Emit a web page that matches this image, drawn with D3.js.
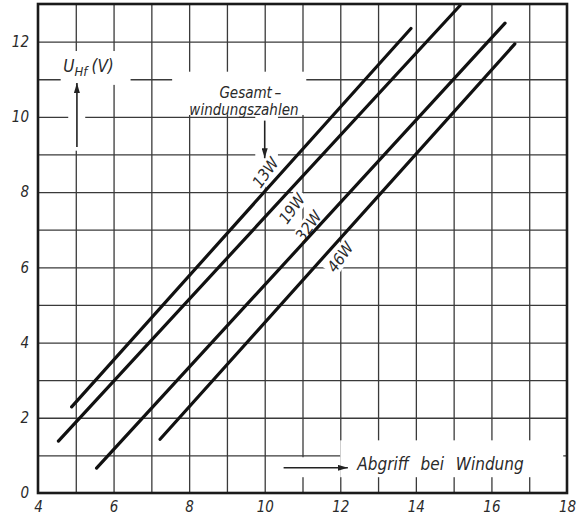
<!DOCTYPE html>
<html>
<head>
<meta charset="utf-8">
<title>U_Hf over Abgriff</title>
<script src="https://cdn.jsdelivr.net/npm/d3@7"></script>
<style>
  body { margin: 0; background: #fff; }
  svg text { font-family: "DejaVu Sans Condensed", "DejaVu Sans", sans-serif; font-style: italic; fill: #2a2a2a; }
  .grid line { stroke: #3a3a3a; stroke-width: 1.3px; }
  .grid path { display: none; }
  .lbl path, .lbl line { display: none; }
</style>
</head>
<body>
<svg id="chart" width="577" height="520"></svg>
<script>
// Gesamtwindungszahlen (one straight line per coil)
var curveNames = ["13W", "19W", "32W", "46W"];
var startWdg = [4.89, 4.54, 5.55, 7.23];
var startU   = [2.29, 1.38, 0.66, 1.43];
var endWdg   = [13.87, 15.17, 16.36, 16.62];
var endU     = [12.35, 12.96, 12.49, 11.94];
// where the names sit along the lines (data units)
var nameWdg = [10.02, 10.72, 11.16, 12.0];
var nameU   = [8.52, 7.56, 7.1, 6.27];

var xTicks = [4, 6, 8, 10, 12, 14, 16, 18];
var yTicks = [0, 2, 4, 6, 8, 10, 12];

var svg = d3.select("#chart"),
    margin = {top: 4, right: 10, bottom: 27, left: 38},
    width = +svg.attr("width") - margin.left - margin.right,
    height = +svg.attr("height") - margin.top - margin.bottom;

var x = d3.scaleLinear().domain([4, 18]).range([0, width]);
var y = d3.scaleLinear().domain([0, 13]).range([height, 0]);

var g = svg.append("g").attr("transform", "translate(" + margin.left + "," + margin.top + ")");

// grid, one line per unit
g.append("g").attr("class", "grid")
    .attr("transform", "translate(0," + height + ")")
    .call(d3.axisBottom(x).tickValues(d3.range(5, 18)).tickSize(-height).tickFormat(""));
g.append("g").attr("class", "grid")
    .call(d3.axisLeft(y).tickValues(d3.range(1, 13)).tickSize(-width).tickFormat(""));

// white patches where the drawing interrupts the grid
function blank(x0, y0, x1, y1) {
  g.append("rect").attr("x", x0).attr("y", y0).attr("width", x1 - x0).attr("height", y1 - y0).attr("fill", "#fff");
}
blank(x(4.6), y(11.75), x(6.45), y(10.85));   // U_Hf (V)
blank(x(4.8), y(10.85), x(5.25), y(9.1));     // arrow up
blank(x(7.55), y(11.2), x(11.1), y(10.05));   // Gesamt-windungszahlen
blank(x(9.75), y(10.05), x(10.35), y(8.85));  // arrow down
blank(x(10.2), y(0.95), x(12.0), y(0.42));    // arrow right
blank(x(12.0), y(1.4), x(17.9), y(0.42));     // Abgriff bei Windung

// axis labels
var lx = g.append("g").attr("class", "lbl")
    .attr("transform", "translate(0," + height + ")")
    .call(d3.axisBottom(x).tickValues(xTicks).tickSize(0).tickPadding(8));
lx.selectAll("text").style("font-size", "15px").attr("fill", "#2a2a2a");
var ly = g.append("g").attr("class", "lbl")
    .call(d3.axisLeft(y).tickValues(yTicks).tickSize(0).tickPadding(9));
ly.selectAll("text").style("font-size", "15px").attr("fill", "#2a2a2a");

// curve names with white ground behind them
curveNames.forEach(function(name, i) {
  var t = g.append("g")
      .attr("transform", "translate(" + x(nameWdg[i]) + "," + y(nameU[i]) + ") rotate(-54)");
  var txt = t.append("text")
      .attr("text-anchor", "middle").attr("dy", "0.35em")
      .style("font-size", "16px").text(name);
  var b = txt.node().getBBox();
  t.insert("rect", "text").attr("x", b.x - 2).attr("y", b.y + 1).attr("width", b.width + 4).attr("height", b.height - 2)
      .attr("fill", "#fff");
});

// the four lines
var line = d3.line().x(function(d) { return x(d[0]); }).y(function(d) { return y(d[1]); });
curveNames.forEach(function(name, i) {
  g.append("path")
      .datum([[startWdg[i], startU[i]], [endWdg[i], endU[i]]])
      .attr("d", line)
      .attr("fill", "none").attr("stroke", "#111").attr("stroke-width", 3.2)
      .attr("stroke-linecap", "round");
});

// frame
g.append("rect").attr("width", width).attr("height", height)
    .attr("fill", "none").attr("stroke", "#1a1a1a").attr("stroke-width", 2.6);

// arrows
svg.append("defs").append("marker")
    .attr("id", "head").attr("viewBox", "0 0 10 6").attr("refX", 10).attr("refY", 3)
    .attr("markerWidth", 10).attr("markerHeight", 6).attr("markerUnits", "userSpaceOnUse")
    .attr("orient", "auto")
  .append("path").attr("d", "M0,0L10,3L0,6Z").attr("fill", "#222");
function arrow(x0, y0, x1, y1) {
  g.append("line").attr("x1", x0).attr("y1", y0).attr("x2", x1).attr("y2", y1)
      .attr("stroke", "#222").attr("stroke-width", 1.6).attr("marker-end", "url(#head)");
}
arrow(x(5.03), y(9.2), x(5.03), y(10.9));
arrow(x(10.0), y(9.9), x(10.0), y(8.9));
arrow(x(10.5), y(0.67), x(12.2), y(0.67));

// texts
var uLab = g.append("text").attr("x", x(4.67)).attr("y", y(11.2)).style("font-size", "17px");
uLab.append("tspan").text("U");
uLab.append("tspan").attr("dy", 4).style("font-size", "13px").text("Hf");
uLab.append("tspan").attr("dy", -4).attr("dx", 4).text("(V)");

g.append("text").attr("x", x(9.62)).attr("y", y(10.5)).attr("text-anchor", "middle")
    .style("font-size", "15px").text("Gesamt\u2009\u2013");
g.append("text").attr("x", x(9.45)).attr("y", y(10.05)).attr("text-anchor", "middle")
    .style("font-size", "15px").text("windungszahlen");
g.append("text").attr("x", x(12.45)).attr("y", y(0.6))
    .style("font-size", "17px").style("word-spacing", "7px").text("Abgriff bei Windung");
</script>
</body>
</html>
